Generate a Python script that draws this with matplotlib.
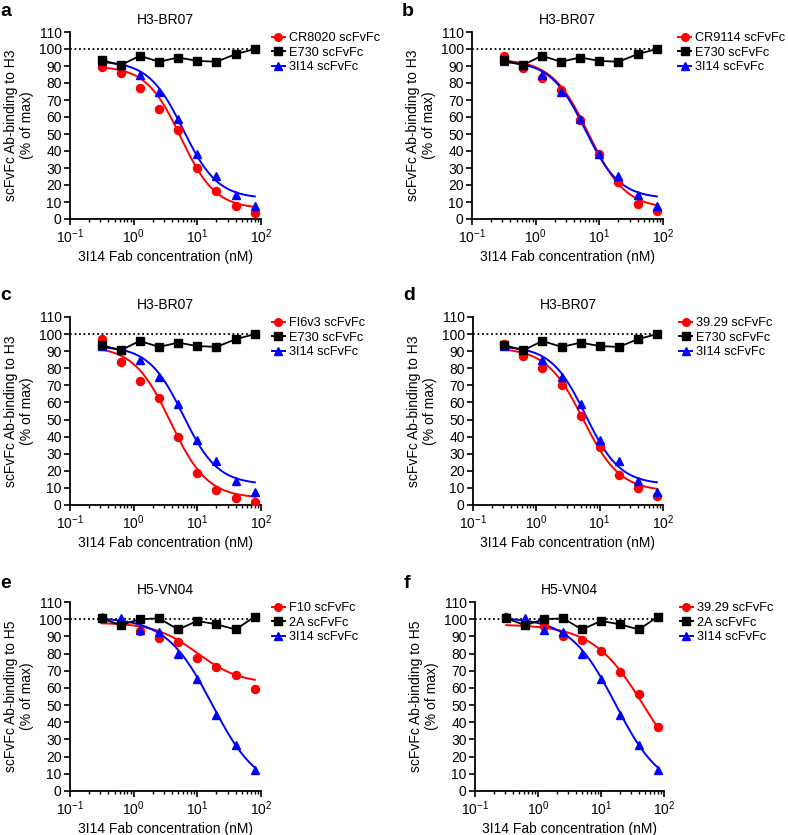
import numpy as np
import matplotlib
matplotlib.use("Agg")
import matplotlib.pyplot as plt

plt.rcParams['font.family'] = ['Liberation Sans', 'DejaVu Sans']
plt.rcParams['font.size'] = 10
plt.rcParams['mathtext.default'] = 'regular'

conc = [0.3125, 0.625, 1.25, 2.5, 5, 10, 20, 40, 80]

panel_letters = ['a', 'b', 'c', 'd', 'e', 'f']
titles = ['H3-BR07', 'H3-BR07', 'H3-BR07', 'H3-BR07', 'H5-VN04', 'H5-VN04']
ylabels = ['scFvFc Ab-binding to H3\n(% of max)'] * 4 + ['scFvFc Ab-binding to H5\n(% of max)'] * 2
red_names = ['CR8020 scFvFc', 'CR9114 scFvFc', 'FI6v3 scFvFc', '39.29 scFvFc', 'F10 scFvFc', '39.29 scFvFc']
black_names = ['E730 scFvFc'] * 4 + ['2A scFvFc'] * 2
blue_name = '3I14 scFvFc'

red_a = [89.5, 86, 77, 65, 52.5, 30, 16.5, 7.5, 3.5]
red_b = [96, 89, 83, 76, 58.5, 38.5, 21.5, 9, 4.5]
red_c = [97, 83.5, 72.5, 62.5, 40, 18.5, 9, 4, 2]
red_d = [94, 87, 80, 70, 52, 34, 17.5, 10, 5]
red_e = [100.5, 98, 93, 89, 87, 77.5, 72, 67.5, 59.5]
red_f = [101, 97, 96, 90.5, 88, 81.5, 69.5, 56.5, 37.5]

black_h3 = [93.5, 90.5, 96, 92.5, 95, 93, 92.5, 97, 100]
black_h5 = [100.5, 96.5, 100, 100.5, 94, 99, 97, 94, 101.5]

blue_h3 = [93, 90.5, 85, 75, 59, 38, 25.5, 14, 7.5]
blue_h5 = [101, 100.5, 93.5, 92.5, 80, 65, 44.5, 27, 12.5]

# fitted 4-parameter logistic curves: top, bottom, IC50, hill
fit_red = [(90, 6, 5.5, 1.6), (94, 6, 6.8, 1.5), (93, 4, 3.8, 1.5),
           (92, 8, 5.5, 1.5), (98, 62.5, 10, 1.3), (97, 0, 50, 1.05)]
fit_blue_h3 = (93, 12, 6, 1.6)
fit_blue_h5 = (101, 0, 17, 1.2)

reds = [red_a, red_b, red_c, red_d, red_e, red_f]
blacks = [black_h3] * 4 + [black_h5] * 2
blues = [blue_h3] * 4 + [blue_h5] * 2
fit_blues = [fit_blue_h3] * 4 + [fit_blue_h5] * 2

W, H = 788, 835
axes_px = [(70, 32, 191, 187), (472, 32, 191, 187),
           (70, 317, 191, 188), (473, 317, 190, 188),
           (70, 602, 191, 189), (475, 602, 189, 189)]
letter_px = [(0, 12), (402, 12), (0, 296), (403, 296), (0, 583), (404, 583)]
leg_x = [1.058, 1.08, 1.058, 1.085, 1.058, 1.085]

RED = '#ff0000'
BLUE = '#0000ff'


def logistic(x, p):
    top, bottom, ic50, hill = p
    return bottom + (top - bottom) / (1 + (x / ic50) ** hill)


fig = plt.figure(figsize=(W / 100, H / 100), dpi=100)

for i in range(6):
    l, t, w, h = axes_px[i]
    ax = fig.add_axes([l / W, 1 - (t + h) / H, w / W, h / H])
    ax.set_xscale('log')
    ax.set_xlim(0.1, 100)
    ax.set_ylim(0, 110)
    ax.set_yticks(np.arange(0, 111, 10))
    for s in ['top', 'right']:
        ax.spines[s].set_visible(False)
    for s in ['left', 'bottom']:
        ax.spines[s].set_linewidth(1.3)
    ax.tick_params(which='major', direction='out', length=4, width=1.2, labelsize=10, pad=2)
    ax.tick_params(which='minor', direction='out', length=2.5, width=1.0)
    ax.yaxis.set_tick_params(which='minor', length=0)

    ax.plot([0.1, 80], [100, 100], color='black', lw=1.3, ls=(0, (1, 1.5)), zorder=1)

    xs = np.logspace(np.log10(conc[0]), np.log10(conc[-1]), 200)
    ax.plot(xs, logistic(xs, fit_red[i]), color=RED, lw=1.4, zorder=2)
    ax.plot(xs, logistic(xs, fit_blues[i]), color=BLUE, lw=1.4, zorder=2)

    ax.plot(conc, reds[i], 'o', color=RED, ms=5.8, zorder=3)
    ax.plot(conc, blues[i], '^', color=BLUE, ms=5.8, zorder=3)
    ax.plot(conc, blacks[i], 's-', color='black', ms=5.5, lw=1.3, zorder=4)

    hr, = ax.plot([], [], 'o-', color=RED, ms=5.5, lw=1.4)
    hk, = ax.plot([], [], 's-', color='black', ms=5.5, lw=1.4)
    hb, = ax.plot([], [], '^-', color=BLUE, ms=5.5, lw=1.4)
    ax.legend([hr, hk, hb], [red_names[i], black_names[i], blue_name],
              loc='upper left', bbox_to_anchor=(leg_x[i], 1.0), frameon=False,
              borderaxespad=0, borderpad=0, handlelength=1.0, handletextpad=0.3,
              labelspacing=0.2, fontsize=9.2)

    ax.set_title(titles[i], fontsize=10, pad=6)
    ax.set_xlabel('3I14 Fab concentration (nM)', fontsize=10, labelpad=3)
    ax.set_ylabel(ylabels[i], fontsize=10, labelpad=3)

    lx, ly = letter_px[i]
    fig.text(lx / W, 1 - ly / H, panel_letters[i], fontsize=14, fontweight='bold',
             ha='left', va='center')

fig.savefig('out.png', dpi=100)
